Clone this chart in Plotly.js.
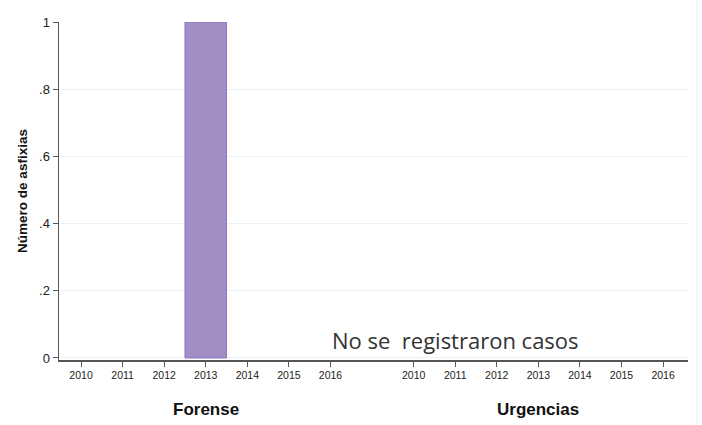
<!DOCTYPE html>
<html>
<head>
<meta charset="utf-8">
<script src="https://cdn.plot.ly/plotly-3.0.1.min.js"></script>
<style>
  html, body { margin: 0; padding: 0; background: #fff; }
  #chart { width: 702px; height: 425px; }
</style>
</head>
<body>
<div id="chart"></div>
<script>
  // Data
  var years = ["2010", "2011", "2012", "2013", "2014", "2015", "2016"];
  var groups = ["Forense", "Urgencias"];
  var forenseValues = [0, 0, 0, 1, 0, 0, 0];
  var urgenciasValues = [0, 0, 0, 0, 0, 0, 0];
  var yTicks = [0, 0.2, 0.4, 0.6, 0.8, 1];
  var yTickText = ["0", ".2", ".4", ".6", ".8", "1"];
  var note = "No se\u00a0 registraron casos";

  // Each group takes 7 slots, with one empty slot between groups
  var GROUP_STRIDE = years.length + 1;
  function slots(g) {
    return years.map(function (y, i) { return g * GROUP_STRIDE + i; });
  }

  var BAR_FILL = "#a28dc4";
  var BAR_LINE = "#8f75bf";
  var GRID = "#eaf0f3";
  var AXIS = "#555555";

  var traces = [forenseValues, urgenciasValues].map(function (vals, g) {
    return {
      type: "bar",
      x: slots(g),
      y: vals,
      width: 1,
      name: groups[g],
      // no outline on empty bars, so zero years leave no mark
      marker: {
        color: BAR_FILL,
        line: { color: BAR_LINE, width: vals.map(function (v) { return v > 0 ? 1 : 0; }) }
      },
      hoverinfo: "skip"
    };
  });

  var tickvals = slots(0).concat(slots(1));
  var ticktext = years.concat(years);

  var annotations = groups.map(function (name, g) {
    return {
      x: g * GROUP_STRIDE + 3,
      xref: "x",
      y: 0,
      yref: "paper",
      yanchor: "middle",
      yshift: -49,
      text: "<b>" + name + "</b>",
      showarrow: false,
      font: { family: "Liberation Sans, Arial, sans-serif", size: 17, color: "#111" }
    };
  });
  annotations.push({
    x: 9,
    xref: "x",
    y: 0.054,
    yref: "y",
    text: note,
    showarrow: false,
    font: { family: "Open Sans, sans-serif", size: 22, color: "#333" }
  });

  var layout = {
    width: 702,
    height: 425,
    autosize: false,
    margin: { l: 59, r: 14, t: 22, b: 65 },
    paper_bgcolor: "#ffffff",
    plot_bgcolor: "#ffffff",
    showlegend: false,
    bargap: 0,
    font: { family: "Liberation Sans, Arial, sans-serif", color: "#222" },
    xaxis: {
      range: [-0.53, 14.6],
      tickmode: "array",
      tickvals: tickvals,
      ticktext: ticktext,
      ticks: "outside",
      ticklen: 5,
      tickcolor: AXIS,
      tickfont: { size: 10.5, color: "#222" },
      showgrid: false,
      zeroline: false,
      showline: true,
      linecolor: AXIS,
      linewidth: 1.5,
      fixedrange: true
    },
    yaxis: {
      range: [-0.006, 1],
      tickmode: "array",
      tickvals: yTicks,
      ticktext: yTickText,
      ticks: "outside",
      ticklen: 5,
      tickcolor: AXIS,
      tickfont: { size: 13, color: "#222" },
      showgrid: true,
      gridcolor: GRID,
      gridwidth: 1,
      zeroline: false,
      showline: true,
      linecolor: AXIS,
      linewidth: 1.5,
      title: {
        text: "<b>Número de asfixias</b>",
        font: { size: 13.5, color: "#111" },
        standoff: 8
      },
      fixedrange: true
    },
    annotations: annotations,
    shapes: [
      {
        type: "line",
        xref: "paper",
        yref: "paper",
        x0: 1.014,
        x1: 1.014,
        y0: -0.19,
        y1: 1.065,
        line: { color: "#eeeeee", width: 1 }
      }
    ]
  };

  Plotly.newPlot("chart", traces, layout, { displayModeBar: false, staticPlot: true });
</script>
</body>
</html>
